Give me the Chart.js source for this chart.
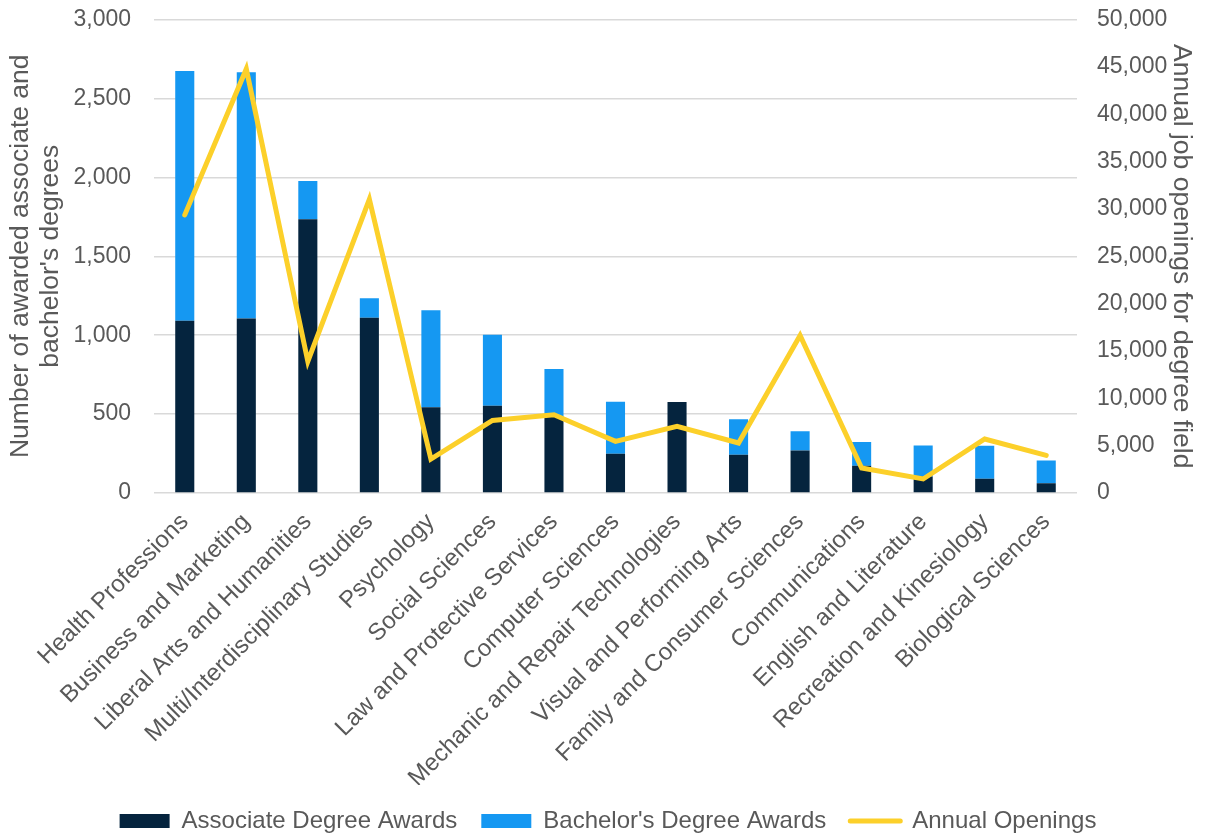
<!DOCTYPE html>
<html>
<head>
<meta charset="utf-8">
<script src="https://cdn.jsdelivr.net/npm/chart.js@4/dist/chart.umd.min.js"></script>
<style>
  html, body { margin: 0; padding: 0; background: #ffffff; }
  #wrap { width: 1216px; height: 838px; position: relative; }
</style>
</head>
<body>
<div id="wrap"><canvas id="chart" width="1216" height="838"></canvas></div>
<script>
// Degree fields
const fields = [
  'Health Professions',
  'Business and Marketing',
  'Liberal Arts and Humanities',
  'Multi/Interdisciplinary Studies',
  'Psychology',
  'Social Sciences',
  'Law and Protective Services',
  'Computer Sciences',
  'Mechanic and Repair Technologies',
  'Visual and Performing Arts',
  'Family and Consumer Sciences',
  'Communications',
  'English and Literature',
  'Recreation and Kinesiology',
  'Biological Sciences'
];

// Awards per field (left axis)
const associateAwards = [1092, 1105, 1734, 1110, 544, 553, 485, 248, 576, 242, 270, 173, 105, 90, 61];
const bachelorAwards  = [1581, 1560, 243, 124, 614, 449, 300, 330, 0, 226, 122, 150, 196, 209, 145];

// Annual job openings per field (right axis)
const annualOpenings = [29370, 44780, 13890, 31020, 3590, 7660, 8260, 5450, 7030, 5280, 16630, 2640, 1480, 5700, 3970];

// Axis settings
const leftTicks = { min: 0, max: 3000, step: 500 };
const rightTicks = { min: 0, max: 50000, step: 5000 };

const seriesNames = ['Associate Degree Awards', "Bachelor's Degree Awards", 'Annual Openings'];
const leftTitle = ['Number of awarded associate and', "bachelor's degrees"];
const rightTitle = 'Annual job openings for degree field';

const NAVY = '#05243e';
const BLUE = '#1598f2';
const GOLD = '#fcd02a';
const TEXT = '#595959';
const GRID = '#d9d9d9';
const CLEAR = 'rgba(0,0,0,0)';
const FONT = "'Liberation Sans', Arial, sans-serif";

const fmt = v => Number(v).toLocaleString('en-US');

new Chart(document.getElementById('chart'), {
  data: {
    labels: fields,
    datasets: [
      {
        type: 'bar',
        label: seriesNames[0],
        data: associateAwards,
        backgroundColor: NAVY,
        yAxisID: 'y',
        stack: 'awards',
        order: 1,
        barPercentage: 0.31,
        categoryPercentage: 1
      },
      {
        type: 'bar',
        label: seriesNames[1],
        data: bachelorAwards,
        backgroundColor: BLUE,
        yAxisID: 'y',
        stack: 'awards',
        order: 1,
        barPercentage: 0.31,
        categoryPercentage: 1
      },
      {
        type: 'line',
        label: seriesNames[2],
        data: annualOpenings,
        borderColor: GOLD,
        backgroundColor: GOLD,
        borderWidth: 5,
        borderCapStyle: 'round',
        pointRadius: 0,
        pointHoverRadius: 0,
        tension: 0,
        yAxisID: 'y1',
        order: 0
      }
    ]
  },
  options: {
    responsive: false,
    animation: false,
    layout: { padding: { top: 19.5, left: 0, right: 0, bottom: -5 } },
    plugins: {
      tooltip: { enabled: false },
      legend: {
        position: 'bottom',
        labels: {
          color: TEXT,
          font: { family: FONT, size: 24 },
          usePointStyle: true,
          pointStyleWidth: 50,
          boxHeight: 14,
          padding: 24,
          generateLabels: chart => chart.data.datasets.map((ds, i) => ({
            text: ds.label,
            datasetIndex: i,
            fillStyle: ds.type === 'line' ? ds.borderColor : ds.backgroundColor,
            strokeStyle: ds.type === 'line' ? ds.borderColor : ds.backgroundColor,
            lineWidth: ds.type === 'line' ? 5 : 0,
            lineCap: 'round',
            pointStyle: ds.type === 'line' ? 'line' : 'rect',
            fontColor: TEXT,
            hidden: false
          }))
        }
      }
    },
    scales: {
      x: {
        grid: { display: false },
        border: { display: false },
        ticks: {
          color: TEXT,
          font: { family: FONT, size: 24 },
          autoSkip: false,
          maxRotation: 45,
          minRotation: 45,
          padding: 7
        },
        afterFit: s => { s.height = 292; }
      },
      y: {
        position: 'left',
        stacked: true,
        min: leftTicks.min,
        max: leftTicks.max,
        border: { display: false },
        grid: { color: GRID, lineWidth: 1.5, drawTicks: true, tickLength: 23, tickColor: CLEAR },
        ticks: {
          stepSize: leftTicks.step,
          color: TEXT,
          font: { family: FONT, size: 23 },
          padding: 0,
          callback: v => fmt(v)
        },
        title: {
          display: true,
          text: leftTitle,
          color: TEXT,
          font: { family: FONT, size: 26.5, lineHeight: 1.13 },
          padding: { top: 6, bottom: 0 }
        },
        afterFit: s => { s.width = 154; }
      },
      y1: {
        position: 'right',
        min: rightTicks.min,
        max: rightTicks.max,
        border: { display: false },
        grid: { display: false, drawOnChartArea: false, drawTicks: true, tickLength: 20, tickColor: CLEAR },
        ticks: {
          stepSize: rightTicks.step,
          color: TEXT,
          font: { family: FONT, size: 23 },
          padding: 0,
          callback: v => fmt(v)
        },
        title: {
          display: true,
          text: rightTitle,
          color: TEXT,
          font: { family: FONT, size: 26.5 },
          padding: { top: 19, bottom: 0 }
        },
        afterFit: s => { s.width = 139; }
      }
    }
  }
});
</script>
</body>
</html>
